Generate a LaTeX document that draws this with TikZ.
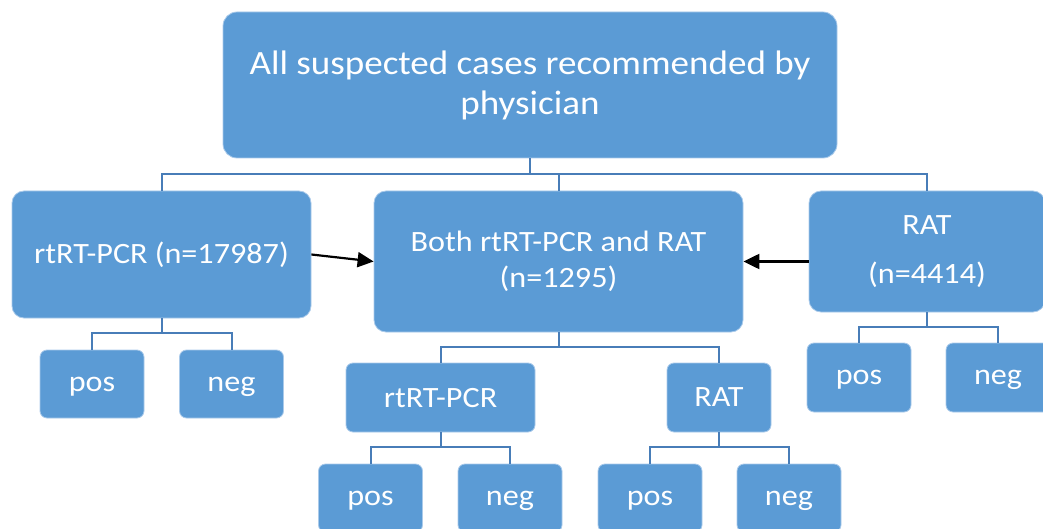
\documentclass[tikz,border=0pt]{standalone}
\usepackage{fontspec}
\setmainfont{Carlito}[FakeStretch=1.09]
\usetikzlibrary{arrows.meta,calc}
\definecolor{boxblue}{RGB}{91,155,213}
\definecolor{linkblue}{RGB}{72,125,184}
\definecolor{edgeblue}{RGB}{170,202,234}
\tikzset{
  base/.style={fill=boxblue, draw=edgeblue, line width=0.8pt, text=white, inner sep=0pt, align=center},
  topbox/.style={base, rounded corners=14pt, font=\fontsize{34}{40}\selectfont},
  midbox/.style={base, rounded corners=12pt, font=\fontsize{29.5}{36}\selectfont},
  leafbox/.style={base, rounded corners=7pt, minimum width=104pt, minimum height=68pt, text depth=0pt, font=\fontsize{29.5}{36}\selectfont},
  conn/.style={draw=linkblue, line width=2pt},
  arr/.style={draw=black, line width=2.2pt, -{Triangle[length=16pt,width=15pt]}},
}
\begin{document}
\begin{tikzpicture}[x=1pt,y=-1pt]
\useasboundingbox (0,0) rectangle (1043,529);
\clip (0,0) rectangle (1043,529);
% bus coordinates
\coordinate (b1) at (0,174);
\coordinate (b2) at (0,333);
\coordinate (b3) at (0,347);
\coordinate (b4) at (0,447);
\coordinate (b5) at (0,327);
% nodes
\node[topbox, minimum width=614pt, minimum height=146pt] (top) at (530,85) {All suspected cases recommended by\\physician};
\node[midbox, minimum width=299pt, minimum height=127pt] (left) at (161.5,254.5) {rtRT-PCR (n=17987)};
\node[midbox, minimum width=369pt, minimum height=141pt] (mid) at (558.5,261.5) {Both rtRT-PCR and RAT\\(n=1295)};
\node[midbox, minimum width=236pt, minimum height=121pt, font=\fontsize{29.5}{49}\selectfont] (right) at (927,251.5) {RAT\\(n=4414)};
\node[leafbox] (lpos) at (92,384) {pos};
\node[leafbox] (lneg) at (231.5,384) {neg};
\node[leafbox, minimum width=189pt, minimum height=69pt] (spcr) at (440.5,397.5) {rtRT-PCR};
\node[leafbox, minimum height=69pt] (srat) at (719,397.5) {RAT};
\node[leafbox] (ppos) at (370.5,498) {pos};
\node[leafbox] (pneg) at (510,498) {neg};
\node[leafbox] (rpos) at (650,498) {pos};
\node[leafbox] (rneg) at (789,498) {neg};
\node[leafbox, minimum height=69pt] (xpos) at (859,377.5) {pos};
\node[leafbox, minimum height=69pt] (xneg) at (998,377.5) {neg};
% tree connectors
\draw[conn] (top.south) -- (top.south |- b1);
\draw[conn] (left.north) -- (left.north |- b1) -- (right.north |- b1) -- (right.north);
\draw[conn] (mid.north) -- (mid.north |- b1);
\draw[conn] (left.south) -- (left.south |- b2);
\draw[conn] (lpos.north) -- (lpos.north |- b2) -- (lneg.north |- b2) -- (lneg.north);
\draw[conn] (mid.south) -- (mid.south |- b3);
\draw[conn] (spcr.north) -- (spcr.north |- b3) -- (srat.north |- b3) -- (srat.north);
\draw[conn] (spcr.south) -- (spcr.south |- b4);
\draw[conn] (ppos.north) -- (ppos.north |- b4) -- (pneg.north |- b4) -- (pneg.north);
\draw[conn] (srat.south) -- (srat.south |- b4);
\draw[conn] (rpos.north) -- (rpos.north |- b4) -- (rneg.north |- b4) -- (rneg.north);
\draw[conn] (right.south) -- (right.south |- b5);
\draw[conn] (xpos.north) -- (xpos.north |- b5) -- (xneg.north |- b5) -- (xneg.north);
% arrows
\draw[arr] (left.east) -- (mid.west);
\draw[arr] (right.west |- mid.east) -- (mid.east);
\end{tikzpicture}
\end{document}
